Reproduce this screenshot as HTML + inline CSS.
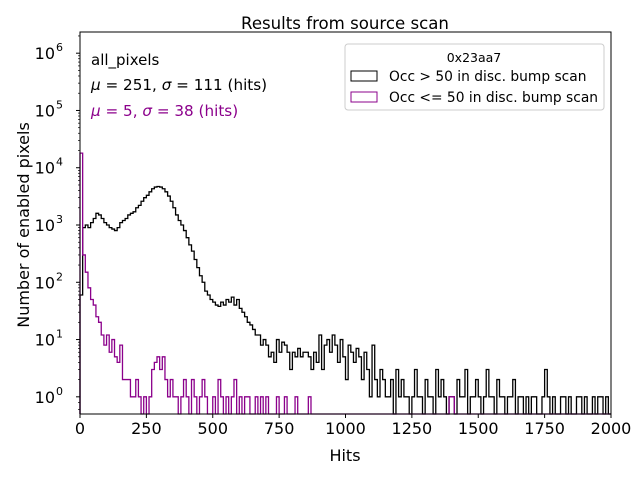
<!DOCTYPE html>
<html><head><meta charset="utf-8"><style>
body{margin:0;background:#fff;}
svg text{font-family:"DejaVu Sans","Liberation Sans",sans-serif;}
</style></head><body>
<svg id="chart" width="640" height="480" viewBox="0 0 640 480" xmlns="http://www.w3.org/2000/svg">
<rect width="640" height="480" fill="#fff"/>
<text x="345" y="29" font-size="16.6" text-anchor="middle">Results from source scan</text>
<g id="series"></g>
<g id="axes"></g>
<text x="345" y="461" font-size="16" text-anchor="middle">Hits</text>
<text transform="translate(29,225) rotate(-90)" font-size="16" text-anchor="middle">Number of enabled pixels</text>
<text x="91" y="65" font-size="15">all_pixels</text>
<text x="91" y="90" font-size="15.2"><tspan font-style="italic">μ</tspan> = 251, <tspan font-style="italic">σ</tspan> = 111 (hits)</text>
<text x="91" y="116" font-size="15.2" fill="#8b008b"><tspan font-style="italic">μ</tspan> = 5, <tspan font-style="italic">σ</tspan> = 38 (hits)</text>
<g>
<rect x="345" y="44" width="259" height="66" rx="3" fill="#fff" stroke="#ccc"/>
<text x="474" y="62" font-size="12.5" text-anchor="middle">0x23aa7</text>
<rect x="351" y="71" width="26" height="10" fill="none" stroke="#000"/>
<text x="389" y="81" font-size="13.8">Occ &gt; 50 in disc. bump scan</text>
<rect x="351" y="92" width="26" height="10" fill="none" stroke="#8b008b"/>
<text x="389" y="102" font-size="13.8">Occ &lt;= 50 in disc. bump scan</text>
</g>
</svg>
<script>
const binWidth = 10;
const xTicks = [0,250,500,750,1000,1250,1500,1750,2000];
const yTickExps = [0,1,2,3,4,5,6];
const blackCounts = [60,900,1000,900,1100,1300,1600,1500,1300,1100,1000,900,850,800,900,1100,1200,1300,1500,1600,
1700,2000,2200,2600,3000,3300,3800,4300,4600,4700,4600,4300,3800,3200,2600,2000,1500,1200,1000,800,
600,450,350,250,180,130,100,70,60,50,45,40,38,45,40,50,45,55,40,50,
35,30,25,20,18,15,12,12,8,10,8,5,6,4,10,6,9,8,6,3,
6,5,7,5,6,6,5,3,6,4,12,3,8,10,6,12,8,4,10,5,
2,8,6,4,7,5,2,6,3,1,8,2,1,3,2,1,1,2,0,3,
1,2,1,1,0,1,3,1,1,0,2,1,1,0,3,1,2,1,0,1,
1,0,2,1,1,3,0,1,1,2,1,0,1,3,1,1,0,2,1,1,
0,1,1,2,0,1,1,0,1,0,1,1,0,0,1,3,1,0,1,0,
0,1,1,0,1,0,0,1,1,0,1,0,0,1,0,1,1,0,1,0];
const purpleCounts = [18000,300,150,80,50,40,25,20,12,8,12,6,10,5,4,8,2,2,2,1,
1,2,1,0,1,0,1,3,4,5,3,5,2,1,2,1,1,0,1,2,
1,0,2,1,0,1,2,1,0,0,1,0,2,1,0,1,0,1,2,0,
1,0,1,1,0,0,1,0,1,0,1,0,0,0,1,0,0,1,0,0,
0,1,0,0,0,0,1,0,0,0,0,0,0,0,0,0,0,0,0,0,
0,0,0,0,0,0,0,0,0,0,0,0,0,0,0,0,0,0,0,0,
0,0,0,0,0,0,0,0,0,0,0,0,0,0,0,0,0,0,0,1,
1,0,0,0,0,0,0,0,0,0,0,0,0,0,0,0,0,0,0,0,
0,0,0,0,0,0,0,0,0,0,0,0,0,0,0,0,0,0,0,0,
0,0,0,0,0,0,0,0,0,0,0,0,0,0,0,0,0,0,0,0];

const NS="http://www.w3.org/2000/svg";
const L=80,R=611,T=32,B=414;
const yMinExp=-0.3, yMaxExp=6.37;
function xs(v){return L+(v-0)/(2000-0)*(R-L);}
function ys(v){if(v<=0)return B;return B-(Math.log10(v)-yMinExp)/(yMaxExp-yMinExp)*(B-T);}
function mk(tag,attrs,parent){const e=document.createElementNS(NS,tag);for(const k in attrs)e.setAttribute(k,attrs[k]);parent.appendChild(e);return e;}
const series=document.getElementById('series');
function stepPath(counts){
  let d='M'+xs(0)+','+B;
  counts.forEach((c,i)=>{const y=ys(c);d+=' L'+xs(i*binWidth)+','+y+' L'+xs((i+1)*binWidth)+','+y;});
  d+=' L'+xs(counts.length*binWidth)+','+B;
  return d;
}
const pb=mk('path',{d:stepPath(blackCounts),fill:'none',stroke:'#000','stroke-width':1.3},series);


const pp=mk('path',{d:stepPath(purpleCounts),fill:'none',stroke:'#8b008b','stroke-width':1.3},series);


const axes=document.getElementById('axes');
const frame=mk('rect',{x:L,y:T,width:R-L,height:B-T,fill:'none',stroke:'#000','stroke-width':1},axes);


xTicks.forEach(v=>{
  const x=xs(v);
  mk('line',{x1:x,x2:x,y1:B,y2:B+4,stroke:'#000'},axes);
  const t=mk('text',{x:x,y:B+20,'font-size':16,'text-anchor':'middle'},axes);
  t.textContent=v;
  
  
});
yTickExps.forEach(e=>{
  const y=ys(Math.pow(10,e));
  mk('line',{x1:L-4,x2:L,y1:y,y2:y,stroke:'#000'},axes);
  for(let m=2;m<=9;m++){const ym=ys(m*Math.pow(10,e));if(ym>T)mk('line',{x1:L-2,x2:L,y1:ym,y2:ym,stroke:'#000','stroke-width':0.7},axes);}
  const t=mk('text',{x:L-25,y:y+6,'font-size':16,'text-anchor':'end'},axes);
  t.textContent='10';
  
  
  const s=mk('text',{x:L-24,y:y-2,'font-size':11,'text-anchor':'start'},axes);
  s.textContent=e;
});
mk('line',{x1:L-2,x2:L,y1:ys(0.6),y2:ys(0.6),stroke:'#000','stroke-width':0.7},axes);
mk('line',{x1:L-2,x2:L,y1:ys(0.8),y2:ys(0.8),stroke:'#000','stroke-width':0.7},axes);
</script>
</body></html>
